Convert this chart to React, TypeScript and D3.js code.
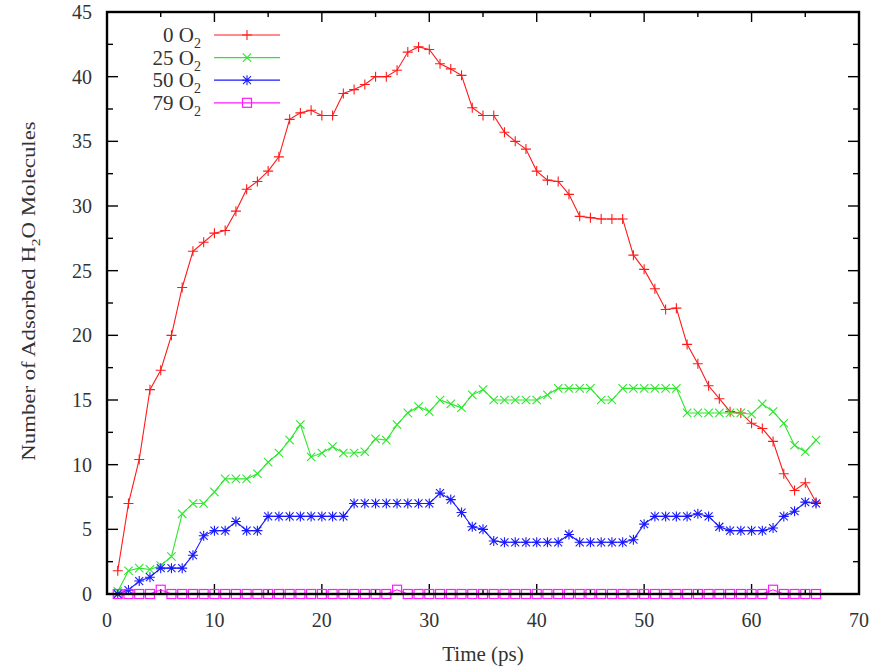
import React from "react";
import * as d3 from "d3";

const times: number[] = d3.range(1, 67);

const red0: number[] = [1.8, 7.0, 10.4, 15.8, 17.3, 20.0, 23.7, 26.5, 27.2, 27.9, 28.1, 29.6, 31.3, 31.9, 32.7, 33.8, 36.7, 37.2, 37.4, 37.0, 37.0, 38.7, 39.0, 39.4, 40.0, 40.0, 40.5, 41.9, 42.3, 42.1, 41.0, 40.6, 40.1, 37.6, 37.0, 37.0, 35.7, 35.0, 34.4, 32.7, 32.0, 31.9, 30.9, 29.2, 29.1, 29.0, 29.0, 29.0, 26.2, 25.1, 23.6, 22.0, 22.1, 19.3, 17.8, 16.1, 15.1, 14.1, 14.0, 13.2, 12.8, 11.8, 9.3, 8.0, 8.6, 7.1];

const green25: number[] = [0.2, 1.8, 2.0, 1.9, 2.2, 2.9, 6.2, 7.0, 7.0, 7.9, 8.9, 8.9, 8.9, 9.3, 10.2, 10.9, 11.9, 13.1, 10.6, 10.9, 11.4, 10.9, 10.9, 11.0, 12.0, 11.9, 13.1, 14.0, 14.5, 14.1, 15.0, 14.7, 14.4, 15.4, 15.8, 15.0, 15.0, 15.0, 15.0, 15.0, 15.4, 15.9, 15.9, 15.9, 15.9, 15.0, 15.0, 15.9, 15.9, 15.9, 15.9, 15.9, 15.9, 14.0, 14.0, 14.0, 14.0, 14.0, 14.0, 13.9, 14.7, 14.1, 13.2, 11.5, 11.0, 11.9];

const blue50: number[] = [0.0, 0.3, 1.0, 1.3, 2.0, 2.0, 2.0, 3.0, 4.5, 4.9, 4.9, 5.6, 4.9, 4.9, 6.0, 6.0, 6.0, 6.0, 6.0, 6.0, 6.0, 6.0, 7.0, 7.0, 7.0, 7.0, 7.0, 7.0, 7.0, 7.0, 7.8, 7.3, 6.3, 5.2, 5.0, 4.1, 4.0, 4.0, 4.0, 4.0, 4.0, 4.0, 4.6, 4.0, 4.0, 4.0, 4.0, 4.0, 4.2, 5.4, 6.0, 6.0, 6.0, 6.0, 6.2, 6.0, 5.2, 4.9, 4.9, 4.9, 4.9, 5.1, 6.0, 6.4, 7.1, 7.0];

const magenta79: number[] = [0, 0, 0, 0, 0.33, 0, 0, 0, 0, 0, 0, 0, 0, 0, 0, 0, 0, 0, 0, 0, 0, 0, 0, 0, 0, 0, 0.33, 0, 0, 0, 0, 0, 0, 0, 0, 0, 0, 0, 0, 0, 0, 0, 0, 0, 0, 0, 0, 0, 0, 0, 0, 0, 0, 0, 0, 0, 0, 0, 0, 0, 0, 0.33, 0, 0, 0, 0];

const legendLabels: string[] = ["0", "25", "50", "79"];
const xTicks: number[] = [0, 10, 20, 30, 40, 50, 60, 70];
const yTicks: number[] = [0, 5, 10, 15, 20, 25, 30, 35, 40, 45];

const W = 884;
const H = 667;
const left = 107;
const right = 859;
const top = 12;
const bottom = 594;

type Marker = "plus" | "cross" | "star" | "square";

const series = [
  { values: red0, color: "#ff1a1a", marker: "plus" as Marker },
  { values: green25, color: "#2ee62e", marker: "cross" as Marker },
  { values: blue50, color: "#1a1aff", marker: "star" as Marker },
  { values: magenta79, color: "#ff1aff", marker: "square" as Marker },
];

function MarkerShape({ x, y, type, color }: { x: number; y: number; type: Marker; color: string }) {
  const s = 5;
  if (type === "plus") {
    return <path d={`M${x - s},${y}H${x + s}M${x},${y - s}V${y + s}`} stroke={color} strokeWidth={1.1} fill="none" />;
  }
  if (type === "cross") {
    const c = 4.2;
    return <path d={`M${x - c},${y - c}L${x + c},${y + c}M${x - c},${y + c}L${x + c},${y - c}`} stroke={color} strokeWidth={1.1} fill="none" />;
  }
  if (type === "star") {
    const c = 4;
    return (
      <path
        d={`M${x - s},${y}H${x + s}M${x},${y - s}V${y + s}M${x - c},${y - c}L${x + c},${y + c}M${x - c},${y + c}L${x + c},${y - c}`}
        stroke={color}
        strokeWidth={1.1}
        fill="none"
      />
    );
  }
  const q = 4.5;
  return <rect x={x - q} y={y - q} width={2 * q} height={2 * q} stroke={color} strokeWidth={1.2} fill="none" />;
}

export default function App() {
  const x = d3.scaleLinear().domain([0, 70]).range([left, right]);
  const y = d3.scaleLinear().domain([0, 45]).range([bottom, top]);

  const xMinor = d3.range(0, 70.01, 5);
  const yMinor = d3.range(0, 45.01, 2.5);
  const font = "'Liberation Serif', 'DejaVu Serif', serif";
  const textColor = "#333";

  const line = d3
    .line<[number, number]>()
    .x((d) => x(d[0]))
    .y((d) => y(d[1]));

  return (
    <svg width={W} height={H} style={{ position: "absolute", left: 0, top: 0, background: "#fff" }} fontFamily={font}>
      <rect x={0} y={0} width={W} height={H} fill="#fff" />
      {/* ticks */}
      {xMinor.map((t) => {
        const major = t % 10 === 0;
        const len = major ? 10 : 5;
        return (
          <g key={"xt" + t} stroke="#000" strokeWidth={1.4}>
            <line x1={x(t)} x2={x(t)} y1={bottom} y2={bottom - len} />
            <line x1={x(t)} x2={x(t)} y1={top} y2={top + len} />
          </g>
        );
      })}
      {yMinor.map((v) => {
        const major = v % 5 === 0;
        const len = major ? 11 : 6;
        return (
          <g key={"yt" + v} stroke="#000" strokeWidth={1.4}>
            <line x1={left} x2={left + len} y1={y(v)} y2={y(v)} />
            <line x1={right} x2={right - len} y1={y(v)} y2={y(v)} />
          </g>
        );
      })}
      {/* tick labels */}
      {xTicks.map((t) => (
        <text key={"xl" + t} x={x(t)} y={bottom + 33} textAnchor="middle" fontSize={20} fill={textColor}>
          {t}
        </text>
      ))}
      {yTicks.map((v) => (
        <text key={"yl" + v} x={left - 15} y={y(v) + 7} textAnchor="end" fontSize={20} fill={textColor}>
          {v}
        </text>
      ))}
      {/* axis titles */}
      <text x={(left + right) / 2} y={661} textAnchor="middle" fontSize={21} fill={textColor}>
        Time (ps)
      </text>
      <text transform={`translate(35, 291) rotate(-90) scale(1.2,1)`} textAnchor="middle" fontSize={19} fill={textColor}>
        Number of Adsorbed H
        <tspan dy={5} fontSize={13}>2</tspan>
        <tspan dy={-5}>O Molecules</tspan>
      </text>
      {/* series */}
      {series.map((s, i) => {
        const pts: [number, number][] = times.map((t, j) => [t, s.values[j]]);
        return (
          <g key={"s" + i}>
            <path d={line(pts) || ""} fill="none" stroke={s.color} strokeWidth={1.1} />
            {pts.map((p, j) => (
              <MarkerShape key={j} x={x(p[0])} y={y(p[1])} type={s.marker} color={s.color} />
            ))}
          </g>
        );
      })}
      {/* frame */}
      <rect x={left} y={top} width={right - left} height={bottom - top} fill="none" stroke="#000" strokeWidth={2.4} />
      {/* legend */}
      {series.map((s, i) => {
        const ly = 35 + i * 22.6;
        return (
          <g key={"lg" + i}>
            <text x={194} y={ly + 7} textAnchor="end" fontSize={21} fill={textColor}>
              {legendLabels[i]} O
            </text>
            <text x={194} y={ly + 13} fontSize={14} fill={textColor}>2</text>
            <line x1={214} x2={280} y1={ly} y2={ly} stroke={s.color} strokeWidth={1.2} />
            <MarkerShape x={247} y={ly} type={s.marker} color={s.color} />
          </g>
        );
      })}
    </svg>
  );
}
